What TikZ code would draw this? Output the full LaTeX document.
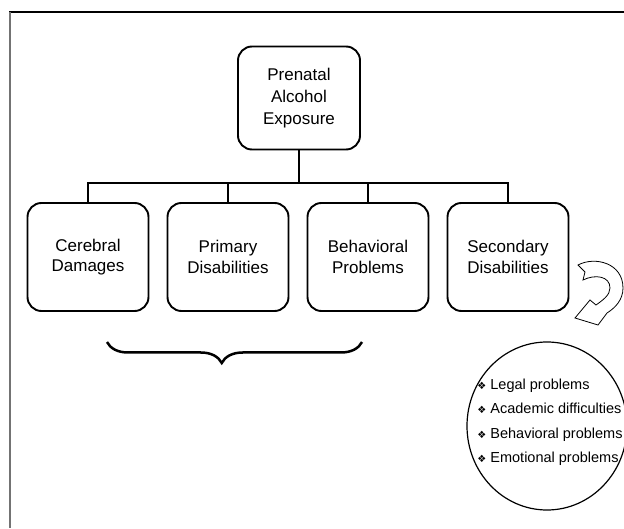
\documentclass[tikz,border=0pt]{standalone}
\usepackage{fontspec}
\setmainfont{Liberation Sans}
\newfontfamily\symfont{DejaVu Sans}
\usetikzlibrary{decorations.pathreplacing,shapes.geometric}
\tikzset{
  stage/.style={draw, line width=1.9pt, rounded corners=14pt, minimum width=121pt, minimum height=108pt, align=center, font=\fontsize{17}{20.5}\selectfont},
  wire/.style={line width=1.7pt},
}
\newcommand{\itm}{{\symfont\fontsize{10}{10}\selectfont ❖}\ }

\begin{document}
\begin{tikzpicture}[x=1pt,y=1pt]
  %%%%% START %%%%%
  \useasboundingbox (0,0) rectangle (624,528);

  \draw[line width=2pt] (9,516) -- (624,516);
  \draw[line width=2pt, color=black!55] (10,516) -- (10,0);

  \node[stage, minimum width=122pt, minimum height=103pt, font=\fontsize{17}{22}\selectfont] (pae) at (299,430) {Prenatal\\Alcohol\\Exposure};

  \node[stage] (cd) at (88,271) {Cerebral\\Damages};
  \node[stage] (pd) at (228,271) {Primary\\Disabilities};
  \node[stage] (bp) at (368,271) {Behavioral\\Problems};
  \node[stage] (sd) at (508,271) {Secondary\\Disabilities};

  \coordinate (bus) at (0,345);
  \draw[wire] (pae.south) -- (pae.south |- bus);
  \draw[wire] (cd.north) -- (cd.north |- bus) -- (sd.north |- bus) -- (sd.north);
  \draw[wire] (pd.north) -- (pd.north |- bus);
  \draw[wire] (bp.north) -- (bp.north |- bus);

  \coordinate (br1) at (362,186);
  \coordinate (br2) at (107,186);
  \draw[line width=2.5pt, decorate, decoration={brace, amplitude=21pt, aspect=0.55}] (br1) -- (br2);

  \draw[line width=0.8pt] (578,263) .. controls (595,272) and (623,265) .. (623,240)
    .. controls (623,228) and (615,220) .. (607,215) -- (598,203) -- (575,210) -- (590,228)
    -- (596,223) .. controls (603,228) and (610,233) .. (610,240)
    .. controls (610,252) and (595,254) .. (583,248) -- (585,256) -- cycle;

  \node[draw, ellipse, line width=1.2pt, minimum width=160pt, minimum height=168pt, inner sep=0pt] (sec) at (547,102) {};
  \node[align=left, inner sep=0pt, font=\fontsize{14.5}{24.5}\selectfont] (seclist) at ([xshift=3pt, yshift=4pt]sec.center)
    {\itm Legal problems\\ \itm Academic difficulties\\ \itm Behavioral problems\\ \itm Emotional problems};

  %%%%% END %%%%%
\end{tikzpicture}
\end{document}
